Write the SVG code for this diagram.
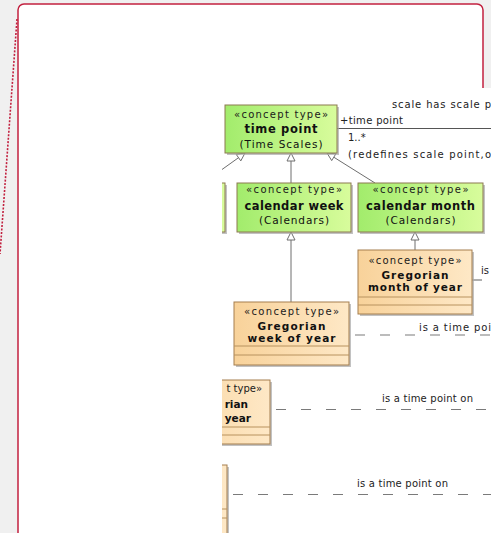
<svg xmlns="http://www.w3.org/2000/svg" width="491" height="533" viewBox="0 0 491 533">
<style>
text{font-family:"DejaVu Sans","Liberation Sans",sans-serif;fill:#111}
.st{font-size:10px;fill:#1a1a1a}
.nm{font-size:11.5px;font-weight:bold}
.nm2{font-size:10.5px;font-weight:bold}
.sub{font-size:10.5px}
.lb{font-size:10px;fill:#222}
.sh{fill:#a8a8a8;opacity:.7}
.gn{fill:url(#gg);stroke:#8c7a50;stroke-width:1}
.or{fill:url(#og);stroke:#a57e4e;stroke-width:1}
.cl{stroke:#b8925e;stroke-width:1}
.gen{stroke:#6e6e6e;stroke-width:1;fill:none}
.tri{fill:#fff;stroke:#6e6e6e;stroke-width:1}
.dash{stroke:#7a7a7a;stroke-width:1.2;stroke-dasharray:10 15;fill:none}
</style>
<defs>
<linearGradient id="gg" x1="0" y1="0" x2="1" y2="0">
<stop offset="0" stop-color="#a2ec6c"/>
<stop offset="1" stop-color="#d8fc9c"/>
</linearGradient>
<linearGradient id="og" x1="0" y1="0" x2="1" y2="0">
<stop offset="0" stop-color="#f8d29a"/>
<stop offset="1" stop-color="#fee8c6"/>
</linearGradient>
<clipPath id="cp"><rect x="222" y="88" width="269" height="445"/></clipPath>
</defs>
<rect x="0" y="0" width="491" height="533" fill="#f0f0f0"/>
<line x1="17" y1="19" x2="0" y2="254" stroke="#c2203f" stroke-width="1.6" stroke-dasharray="2 1.5"/>
<rect x="18" y="4" width="465" height="580" rx="6" fill="#fff" stroke="#c2203f" stroke-width="1.5"/>
<rect x="222" y="88" width="269" height="445" fill="#fff"/>
<g clip-path="url(#cp)">
<g id="connectors">
<line class="gen" x1="222" y1="169.5" x2="238.5" y2="157.7"/>
<polygon class="tri" points="245,153 240.8,160.9 236.2,154.4"/>
<line class="gen" x1="291" y1="183" x2="291" y2="161"/>
<polygon class="tri" points="291,153 287,161 295,161"/>
<line class="gen" x1="375" y1="183" x2="333.8" y2="157.2"/>
<polygon class="tri" points="327,153 335.9,153.8 331.7,160.6"/>
<line class="gen" x1="291" y1="302" x2="291" y2="240"/>
<polygon class="tri" points="291,232 287,240 295,240"/>
<line class="gen" x1="415" y1="250" x2="415" y2="240"/>
<polygon class="tri" points="415,232 411,240 419,240"/>
<line x1="337" y1="128.5" x2="491" y2="128.5" stroke="#555" stroke-width="1"/>
<line class="dash" x1="472" y1="280" x2="491" y2="280" stroke-dasharray="8 12"/>
<line class="dash" x1="355" y1="335" x2="491" y2="335"/>
<line class="dash" x1="276" y1="409.5" x2="491" y2="409.5"/>
<line class="dash" x1="233" y1="494.5" x2="491" y2="494.5"/>
<text class="lb" x="392" y="108" textLength="99" lengthAdjust="spacing">scale has scale p</text>
<text class="lb" x="340" y="124" textLength="63" lengthAdjust="spacing">+time point</text>
<text class="lb" x="348" y="141">1..*</text>
<text class="lb" x="348" y="157.5" textLength="143" lengthAdjust="spacing">(redefines scale point,o</text>
<text class="lb" x="481" y="273.5">is</text>
<text class="lb" x="419" y="330.5" textLength="72" lengthAdjust="spacing">is a time poi</text>
<text class="lb" x="382" y="401.5" textLength="91" lengthAdjust="spacing">is a time point on</text>
<text class="lb" x="357" y="486.5" textLength="91" lengthAdjust="spacing">is a time point on</text>
</g>
<g id="node-left-green">
<rect class="sh" x="112" y="185" width="115" height="49"/>
<rect class="gn" x="110" y="183" width="115" height="49"/>
</g>
<g id="node-time-point">
<rect class="sh" x="227" y="107" width="112" height="48"/>
<rect class="gn" x="225" y="105" width="112" height="48"/>
<text class="st" x="281" y="118" text-anchor="middle" textLength="94" lengthAdjust="spacing">«concept type»</text>
<text class="nm" x="281" y="133" text-anchor="middle" textLength="73" lengthAdjust="spacing">time point</text>
<text class="sub" x="281" y="147.5" text-anchor="middle" textLength="83" lengthAdjust="spacing">(Time Scales)</text>
</g>
<g id="node-calendar-week">
<rect class="sh" x="239" y="185" width="114" height="49"/>
<rect class="gn" x="237" y="183" width="114" height="49"/>
<text class="st" x="294" y="193" text-anchor="middle" textLength="96" lengthAdjust="spacing">«concept type»</text>
<text class="nm" x="294" y="210" text-anchor="middle" textLength="99" lengthAdjust="spacing">calendar week</text>
<text class="sub" x="294" y="224" text-anchor="middle" textLength="70" lengthAdjust="spacing">(Calendars)</text>
</g>
<g id="node-calendar-month">
<rect class="sh" x="360" y="185" width="125" height="49"/>
<rect class="gn" x="358" y="183" width="125" height="49"/>
<text class="st" x="420.5" y="193" text-anchor="middle" textLength="96" lengthAdjust="spacing">«concept type»</text>
<text class="nm" x="420.5" y="210" text-anchor="middle" textLength="109" lengthAdjust="spacing">calendar month</text>
<text class="sub" x="420.5" y="224" text-anchor="middle" textLength="70" lengthAdjust="spacing">(Calendars)</text>
</g>
<g id="node-gregorian-month-of-year">
<rect class="sh" x="360" y="252" width="114" height="64"/>
<rect class="or" x="358" y="250" width="114" height="64"/>
<line class="cl" x1="358" y1="297" x2="472" y2="297"/>
<line class="cl" x1="358" y1="305" x2="472" y2="305"/>
<text class="st" x="415" y="264" text-anchor="middle" textLength="93" lengthAdjust="spacing">«concept type»</text>
<text class="nm2" x="415" y="278.5" text-anchor="middle" textLength="67" lengthAdjust="spacing">Gregorian</text>
<text class="nm2" x="415" y="291" text-anchor="middle" textLength="94" lengthAdjust="spacing">month of year</text>
</g>
<g id="node-gregorian-week-of-year">
<rect class="sh" x="236" y="304" width="115" height="63"/>
<rect class="or" x="234" y="302" width="115" height="63"/>
<line class="cl" x1="234" y1="346" x2="349" y2="346"/>
<line class="cl" x1="234" y1="355" x2="349" y2="355"/>
<text class="st" x="291.5" y="315" text-anchor="middle" textLength="95" lengthAdjust="spacing">«concept type»</text>
<text class="nm2" x="291.5" y="329.5" text-anchor="middle" textLength="68" lengthAdjust="spacing">Gregorian</text>
<text class="nm2" x="291.5" y="342" text-anchor="middle" textLength="88" lengthAdjust="spacing">week of year</text>
</g>
<g id="node-gregorian-third">
<rect class="sh" x="157" y="382" width="115" height="64"/>
<rect class="or" x="155" y="380" width="115" height="64"/>
<line class="cl" x1="155" y1="427" x2="270" y2="427"/>
<line class="cl" x1="155" y1="435" x2="270" y2="435"/>
<text class="st" x="262" y="391.5" text-anchor="end">t type»</text>
<text class="nm2" x="248" y="408" text-anchor="end">rian</text>
<text class="nm2" x="251" y="421.5" text-anchor="end">year</text>
</g>
<g id="node-gregorian-bottom">
<rect class="sh" x="114" y="467" width="115" height="70"/>
<rect class="or" x="112" y="465" width="115" height="70"/>
<line class="cl" x1="112" y1="509" x2="227" y2="509"/>
<line class="cl" x1="112" y1="518" x2="227" y2="518"/>
</g>
</g>
</svg>
